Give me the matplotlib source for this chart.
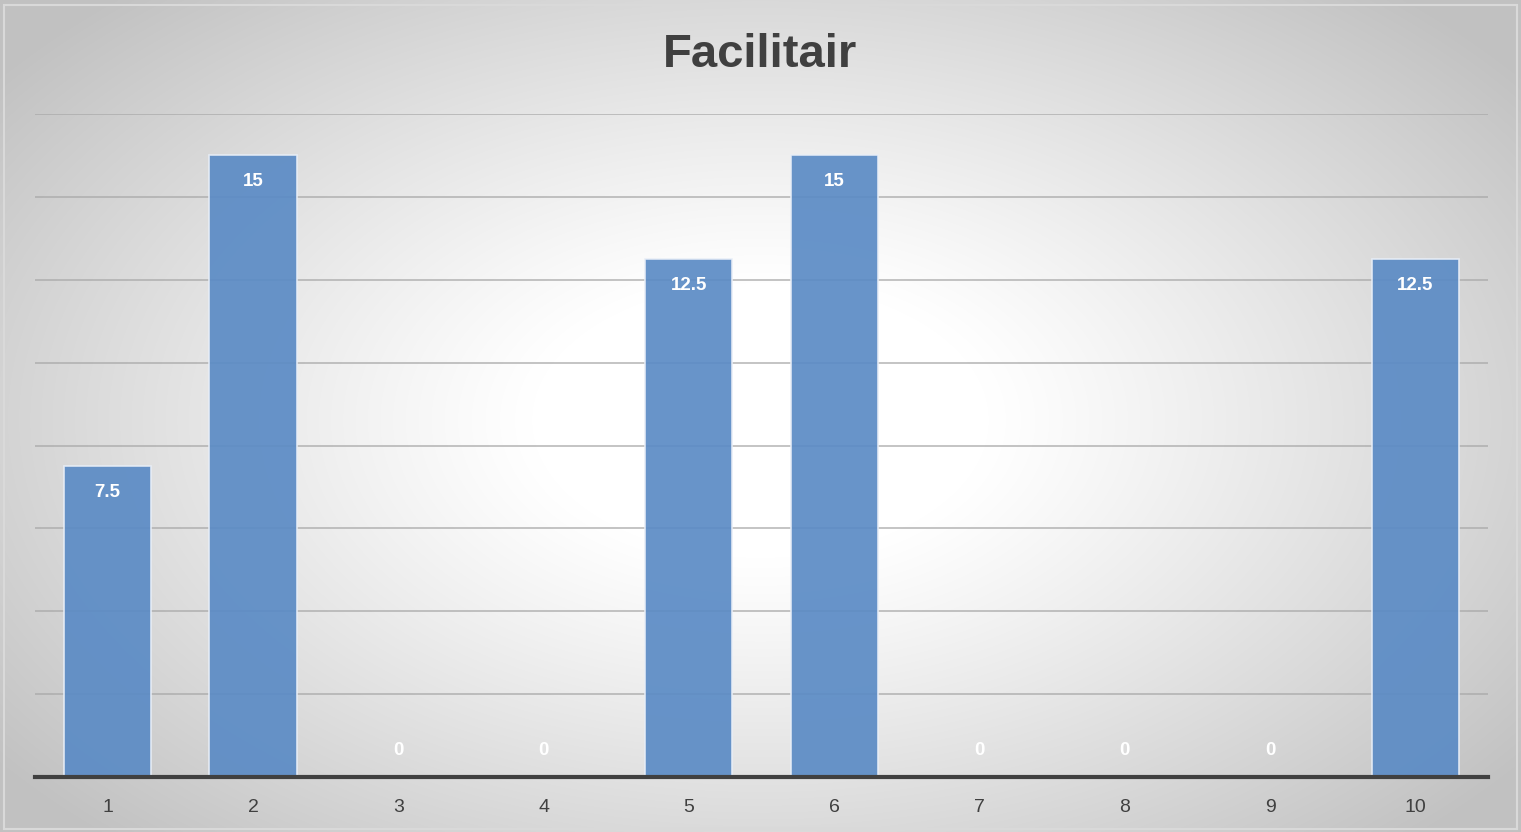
import matplotlib.pyplot as plt
import numpy as np
from matplotlib.patches import Rectangle

plt.rcParams["font.family"] = ["Liberation Sans", "DejaVu Sans"]

# data
categories = ["1", "2", "3", "4", "5", "6", "7", "8", "9", "10"]
values = [7.5, 15, 0, 0, 12.5, 15, 0, 0, 0, 12.5]
labels = ["7.5", "15", "0", "0", "12.5", "15", "0", "0", "0", "12.5"]
title = "Facilitair"

W, H = 1521, 832
fig = plt.figure(figsize=(W / 100, H / 100), dpi=100)

# radial gradient background (white centre, grey corners)
bg = fig.add_axes([0, 0, 1, 1], zorder=-10)
yy, xx = np.mgrid[0:H, 0:W]
cx, cy = 760, 420
r = np.sqrt(((xx - cx) / (W * 0.5)) ** 2 + ((yy - cy) / (H * 0.55)) ** 2)
r = np.clip((r - 0.3) / 0.95, 0, 1)
shade = 1.0 - 0.24 * r ** 1.1
img = np.dstack([shade, shade, shade])
bg.imshow(img, aspect="auto", extent=[0, W, H, 0])
bg.set_xlim(0, W)
bg.set_ylim(H, 0)
bg.axis("off")
bg.add_patch(Rectangle((4, 5), W - 8, H - 8, fill=False, ec="#d9d9d9", lw=1.5))

# plot area
left, right = 35 / W, 1488 / W
bottom, top = (H - 777) / H, (H - 114) / H
ax = fig.add_axes([left, bottom, right - left, top - bottom])
ax.set_facecolor("none")

x = np.arange(len(categories))
ax.bar(x, values, width=0.6, color="#5b8bc5", alpha=0.92,
       edgecolor="#e8eef7", linewidth=1.2, zorder=3)

ax.set_ylim(0, 16)
ax.set_xlim(-0.5, len(categories) - 0.5)
ax.set_yticks(np.arange(2, 17, 2))
ax.yaxis.grid(True, color="#a8a8a8", lw=1.2, alpha=0.8, zorder=4)
ax.set_axisbelow(False)
ax.tick_params(axis="y", left=False, labelleft=False)
ax.tick_params(axis="x", bottom=False, labelsize=14, labelcolor="#404040", pad=12)
ax.set_xticks(x)
ax.set_xticklabels(categories)
for s in ["top", "right", "left"]:
    ax.spines[s].set_visible(False)
ax.spines["bottom"].set_color("#404040")
ax.spines["bottom"].set_linewidth(3)
ax.spines["bottom"].set_zorder(6)

for xi, v, lab in zip(x, values, labels):
    off = -19 if v > 0 else 19
    ax.annotate(lab, (xi, v), xytext=(0, off), textcoords="offset points",
                ha="center", va="center", color="white", fontsize=13.5,
                fontweight="bold", zorder=7)

fig.text(0.5, 1 - 55 / H, title, ha="center", va="center",
         fontsize=34, fontweight="bold", color="#404040")

fig.savefig("out.png", dpi=100)
